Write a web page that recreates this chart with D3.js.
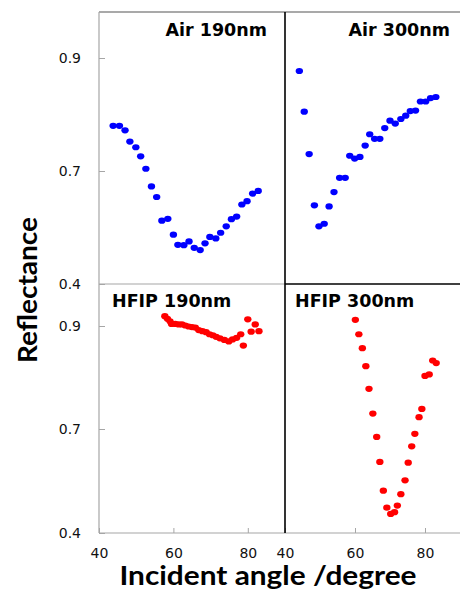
<!DOCTYPE html>
<html>
<head>
<meta charset="utf-8">
<script src="https://cdn.jsdelivr.net/npm/d3@7"></script>
<style>
  html, body { margin: 0; padding: 0; background: #fff; }
  svg { display: block; }
</style>
</head>
<body>
<svg id="chart" width="460" height="599"></svg>
<script>
// ---- data ----
const air190Angle = [43.8, 45.5, 47.0, 48.3, 49.9, 51.2, 52.6, 54.1, 55.5, 56.9, 58.5, 60.0, 61.2, 62.8,
  64.2, 65.6, 67.2, 68.5, 69.8, 71.4, 72.7, 74.2, 75.6, 77.0, 78.4, 79.8, 81.3, 82.8];
const air190Refl = [0.780, 0.780, 0.772, 0.752, 0.742, 0.726, 0.704, 0.659, 0.631, 0.568, 0.573, 0.531, 0.504, 0.503,
  0.513, 0.496, 0.490, 0.508, 0.525, 0.521, 0.536, 0.553, 0.572, 0.579, 0.611, 0.620, 0.640, 0.647];

const air300Angle = [44.1, 45.5, 46.9, 48.4, 49.7, 51.2, 52.6, 54.0, 55.6, 57.2, 58.5, 59.9, 61.4, 62.9,
  64.2, 65.6, 67.1, 68.5, 70.0, 71.5, 73.1, 74.5, 75.8, 77.3, 78.7, 80.2, 81.6, 83.1];
const air300Refl = [0.877, 0.805, 0.730, 0.609, 0.553, 0.560, 0.606, 0.644, 0.682, 0.682, 0.727, 0.722, 0.725, 0.745,
  0.765, 0.757, 0.757, 0.776, 0.789, 0.784, 0.792, 0.798, 0.806, 0.807, 0.823, 0.823, 0.829, 0.831];

const hfip190Angle = [57.7, 58.4, 59.1, 59.5, 60.5, 61.4, 62.3, 63.2, 64.1, 65.0, 65.9, 66.8, 67.8, 68.8,
  69.7, 70.6, 71.5, 72.5, 73.7, 74.9, 75.9, 77.0, 78.1, 78.8, 80.0, 80.9, 82.0, 83.0];
const hfip190Refl = [0.919, 0.914, 0.909, 0.904, 0.904, 0.903, 0.903, 0.901, 0.899, 0.898, 0.897, 0.892, 0.890, 0.888,
  0.884, 0.882, 0.879, 0.876, 0.873, 0.870, 0.874, 0.877, 0.884, 0.862, 0.913, 0.889, 0.903, 0.890];

const hfip300Angle = [60.1, 61.1, 62.1, 63.1, 64.0, 65.1, 66.2, 67.1, 68.1, 69.1, 70.2, 71.3, 72.1, 73.1,
  74.3, 75.2, 76.2, 77.1, 78.3, 79.1, 80.0, 81.2, 82.2, 83.2];
const hfip300Refl = [0.912, 0.884, 0.857, 0.822, 0.778, 0.730, 0.677, 0.605, 0.522, 0.473, 0.455, 0.460, 0.479, 0.512,
  0.552, 0.603, 0.650, 0.686, 0.723, 0.739, 0.803, 0.806, 0.833, 0.828];

const yTicks = [0.4, 0.7, 0.9];
const xTicks = [40, 60, 80];
const xDomain = [40, 90];

const titles = ["Air 190nm", "Air 300nm", "HFIP 190nm", "HFIP 300nm"];

// ---- layout ----
const svg = d3.select("#chart");
const leftX = 99, midX = 285, rightX = 460;
const topY = 12, splitY = 284, bottomY = 533;
const gray = "#a6a6a6";

// the picture's y axis is not even: 0.9->0.7 takes as much room as 0.7->0.4
const yUpper = d3.scaleLinear().domain(yTicks).range([splitY, 171, 58]);
const yLower = d3.scaleLinear().domain(yTicks).range([bottomY, 429, 326]);
const xLeft = d3.scaleLinear().domain(xDomain).range([leftX, midX]);
const xRight = d3.scaleLinear().domain(xDomain).range([midX, rightX]);

const panels = [
  {x: xLeft, y: yUpper, angle: air190Angle, refl: air190Refl, color: "#0000ff",
   title: titles[0], tx: 267, ty: 36, anchor: "end"},
  {x: xRight, y: yUpper, angle: air300Angle, refl: air300Refl, color: "#0000ff",
   title: titles[1], tx: 450, ty: 36, anchor: "end"},
  {x: xLeft, y: yLower, angle: hfip190Angle, refl: hfip190Refl, color: "#ff0000",
   title: titles[2], tx: 112, ty: 307, anchor: "start"},
  {x: xRight, y: yLower, angle: hfip300Angle, refl: hfip300Refl, color: "#ff0000",
   title: titles[3], tx: 295, ty: 307, anchor: "start"},
];

// y axes (ticks point inward)
[yUpper, yLower].forEach(y => {
  const g = svg.append("g")
    .attr("transform", `translate(${leftX},0)`)
    .call(d3.axisLeft(y).tickValues(yTicks).tickFormat(d3.format(".1f"))
      .tickSize(-6).tickPadding(18));
  g.select(".domain").remove();
  g.selectAll(".tick line").attr("stroke", gray);
  g.selectAll(".tick text")
    .attr("font-family", "DejaVu Sans")
    .attr("font-size", 14)
    .attr("fill", "#111");
});

// x axes under the lower panels
[xLeft, xRight].forEach(x => {
  const g = svg.append("g")
    .attr("transform", `translate(0,${bottomY})`)
    .call(d3.axisBottom(x).tickValues(xTicks).tickSize(-5).tickPadding(15));
  g.select(".domain").remove();
  g.selectAll(".tick line").attr("stroke", gray);
  g.selectAll(".tick text")
    .attr("font-family", "DejaVu Sans")
    .attr("font-size", 14)
    .attr("fill", "#111");
});

// frame lines
const frame = svg.append("g").attr("fill", "none");
frame.append("line").attr("x1", leftX).attr("x2", rightX).attr("y1", topY).attr("y2", topY)
  .attr("stroke", "#555").attr("stroke-width", 1.2);
frame.append("line").attr("x1", leftX).attr("x2", leftX).attr("y1", topY).attr("y2", bottomY)
  .attr("stroke", gray).attr("stroke-width", 1.2);
frame.append("line").attr("x1", leftX).attr("x2", rightX).attr("y1", bottomY).attr("y2", bottomY)
  .attr("stroke", gray).attr("stroke-width", 1.2);
frame.append("line").attr("x1", leftX).attr("x2", midX).attr("y1", splitY).attr("y2", splitY)
  .attr("stroke", gray).attr("stroke-width", 1.2);
frame.append("line").attr("x1", midX).attr("x2", rightX).attr("y1", splitY).attr("y2", splitY)
  .attr("stroke", "#000").attr("stroke-width", 1.5);
frame.append("line").attr("x1", midX).attr("x2", midX).attr("y1", topY).attr("y2", bottomY)
  .attr("stroke", "#000").attr("stroke-width", 1.6);

// points and panel titles
panels.forEach(p => {
  svg.append("g")
    .selectAll("ellipse")
    .data(p.angle.map((a, i) => ({a, r: p.refl[i]})))
    .join("ellipse")
    .attr("cx", d => p.x(d.a))
    .attr("cy", d => p.y(d.r))
    .attr("rx", 3.7)
    .attr("ry", 3.1)
    .attr("fill", p.color);

  svg.append("text")
    .attr("x", p.tx).attr("y", p.ty)
    .attr("text-anchor", p.anchor)
    .attr("font-family", "DejaVu Sans")
    .attr("font-weight", "bold")
    .attr("font-size", 17.5)
    .attr("fill", "#000")
    .text(p.title);
});

// axis titles
svg.append("text")
  .attr("transform", "translate(36.5,290) rotate(-90)")
  .attr("text-anchor", "middle")
  .attr("font-family", "Lato")
  .attr("font-weight", "bold")
  .attr("font-size", 27)
  .attr("textLength", 146)
  .attr("lengthAdjust", "spacingAndGlyphs")
  .text("Reflectance");

svg.append("text")
  .attr("x", 268).attr("y", 585)
  .attr("text-anchor", "middle")
  .attr("font-family", "Lato")
  .attr("font-weight", "bold")
  .attr("font-size", 27)
  .attr("textLength", 297)
  .attr("lengthAdjust", "spacingAndGlyphs")
  .text("Incident angle /degree");
</script>
</body>
</html>
